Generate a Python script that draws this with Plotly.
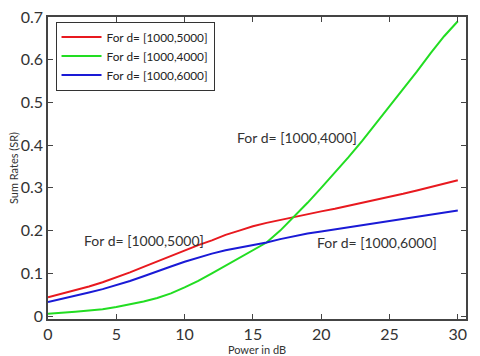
import plotly.graph_objects as go

FONT = "Lato, Open Sans, sans-serif"

power_db = list(range(0, 31))

sr_5000 = [0.044, 0.052, 0.060, 0.069, 0.079, 0.090, 0.102, 0.115, 0.128, 0.140,
           0.153, 0.166, 0.177, 0.190, 0.200, 0.210, 0.218, 0.225, 0.232, 0.239,
           0.245, 0.251, 0.258, 0.264, 0.271, 0.278, 0.286, 0.294, 0.302, 0.310,
           0.318]
sr_4000 = [0.005, 0.007, 0.010, 0.013, 0.016, 0.021, 0.027, 0.034, 0.042, 0.053,
           0.067, 0.082, 0.100, 0.118, 0.135, 0.152, 0.172, 0.200, 0.232, 0.265,
           0.300, 0.335, 0.372, 0.410, 0.450, 0.490, 0.530, 0.572, 0.615, 0.655,
           0.690]
sr_6000 = [0.033, 0.040, 0.047, 0.055, 0.063, 0.072, 0.082, 0.093, 0.105, 0.116,
           0.127, 0.137, 0.146, 0.154, 0.160, 0.165, 0.172, 0.180, 0.187, 0.193,
           0.198, 0.203, 0.208, 0.213, 0.218, 0.222, 0.227, 0.232, 0.237, 0.242,
           0.247]

series = [
    ("For d= [1000,5000]", sr_5000, "#e8191f"),
    ("For d= [1000,4000]", sr_4000, "#22dd22"),
    ("For d= [1000,6000]", sr_6000, "#1a1ad6"),
]

# in-plot labels: (text, x, y)
labels = [
    ("For d= [1000,4000]", 18.2, 0.418),
    ("For d= [1000,5000]", 7.0, 0.177),
    ("For d= [1000,6000]", 24.05, 0.172),
]

fig = go.Figure()
for name, vals, color in series:
    fig.add_trace(go.Scatter(x=power_db, y=vals, mode="lines", name=name,
                             line=dict(color=color, width=2)))

for text, x, y in labels:
    fig.add_annotation(x=x, y=y, text=text, showarrow=False,
                       font=dict(family=FONT, size=14, color="#333"))

axis_common = dict(showgrid=False, zeroline=False, showline=True, linecolor="#444",
                   linewidth=1.5, mirror="ticks", ticks="inside", ticklen=5,
                   tickcolor="#444", automargin=False,
                   tickfont=dict(family=FONT, size=16, color="#333"))

fig.update_xaxes(range=[0, 30.6], tickvals=[0, 5, 10, 15, 20, 25, 30],
                 title=dict(text="Power in dB", font=dict(family=FONT, size=11, color="#333"),
                            standoff=0),
                 **axis_common)
fig.update_yaxes(range=[-0.007, 0.7], tickvals=[0, 0.1, 0.2, 0.3, 0.4, 0.5, 0.6, 0.7],
                 ticktext=["0", "0.1", "0.2", "0.3", "0.4", "0.5", "0.6", "0.7"],
                 title=dict(text="Sum Rates (SR)", font=dict(family=FONT, size=11, color="#333"),
                            standoff=0),
                 **axis_common)

fig.update_layout(
    width=480, height=356,
    margin=dict(l=48, r=14, t=17, b=37),
    paper_bgcolor="white", plot_bgcolor="white",
    legend=dict(x=0.018, y=0.985, xanchor="left", yanchor="top",
                bgcolor="white", bordercolor="#333", borderwidth=1,
                font=dict(family=FONT, size=11.8, color="#222"),
                tracegroupgap=0, itemwidth=40),
    showlegend=True,
)

# drop the page's default body margin so the figure sits at the window's corner
fig.write_html("out.html", config={"displayModeBar": False},
               post_script="document.body.style.margin='0';")
